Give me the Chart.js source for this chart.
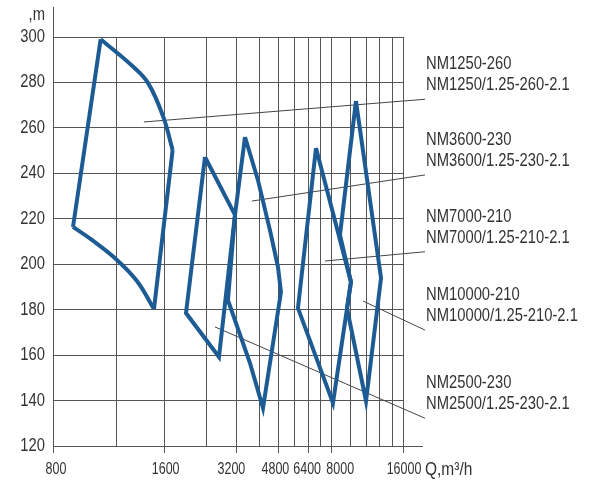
<!DOCTYPE html>
<html>
<head>
<meta charset="utf-8">
<script src="https://cdn.jsdelivr.net/npm/chart.js@4"></script>
<style>
  body { margin: 0; background: #fff; }
</style>
</head>
<body>
<canvas id="pump-chart" width="592" height="482"></canvas>
<script>
// head H (m) against flow Q (m3/h)
const headTicks = [120, 140, 160, 180, 200, 220, 240, 260, 280, 300];
const flowGrid = [544, 1000, 1600, 2400, 3200, 4000, 4800, 5600, 6400, 7200, 8000, 9600, 11200, 12800, 14400, 16000];
const flowLabels = ["800", "", "1600", "", "3200", "", "4800", "", "6400", "", "8000", "", "", "", "", "16000"];

// NM1250-260 is drawn in three parts: two curved arcs and the straight sides
const nm1250Top = [[862, 299], [1181, 286.9], [1366, 279.6], [1578, 264.9], [1728, 250.3]];
const nm1250Bottom = [[660, 216.4], [792, 210.7], [1009, 201.9], [1224, 192.6], [1443, 180.3]];
const nm1250Sides = [[[1728, 250.3], [1443, 180.3]], [[660, 216.4], [862, 299]]];

const nm2500 = [[2362, 247.2], [3156, 221.7], [2704, 159.2], [1966, 178.5], [2362, 247.2]];
const nm3600 = [[3477, 256], [3941, 237], [4424, 215], [4781, 198.8], [4922, 187.8], [4137, 136.7],
  [3648, 156.5], [2949, 184.2], [3156, 221.7], [3477, 256]];
const nm7000 = [[6903, 251.1], [9678, 192.2], [8133, 138.9], [5800, 180.7], [6903, 251.1]];
const nm10000 = [[10157, 271.8], [8703, 212.9], [9678, 192.2], [9314, 180.7], [11192, 139.8],
  [12937, 193.9], [10157, 271.8]];

// callouts: where the pointer starts inside each field, and the head of the shelf line
const pumpNames = ["NM1250-260", "NM3600-230", "NM7000-210", "NM10000-210", "NM2500-230"];
const pumpVariants = ["NM1250/1.25-260-2.1", "NM3600/1.25-230-2.1", "NM7000/1.25-210-2.1",
  "NM10000/1.25-210-2.1", "NM2500/1.25-230-2.1"];
const pointerStart = [[1309, 262.6], [3719, 227.8], [7531, 201.4], [10874, 183.8], [2602, 172.4]];
const shelfHeads = [272.6, 239.3, 205.5, 171.0, 132.2];
const shelfFrom = 19800;
const shelfTo = 75000;

const blue = "#1d5b94";
const gridColor = "#555";
const textColor = "#333";
const family = "'Liberation Sans', Arial, sans-serif";
// the printed x labels sit a little off their ticks
const labelNudge = { "800": 3, "1600": 1, "3200": -5, "4800": -3, "6400": -1, "8000": 9, "16000": 1 };

function pts(list) {
  return list.map((p) => ({ x: p[0], y: p[1] }));
}

function outline(list, tension) {
  return {
    data: pts(list),
    showLine: true,
    borderColor: blue,
    borderWidth: 4,
    borderJoinStyle: "miter",
    pointRadius: 0,
    tension: tension || 0,
    fill: false,
  };
}

const datasets = [
  outline(nm1250Top, 0.4),
  outline(nm1250Bottom, 0.4),
  outline(nm1250Sides[0]),
  outline(nm1250Sides[1]),
  outline(nm2500),
  outline(nm3600),
  outline(nm7000),
  outline(nm10000),
];

pointerStart.forEach((start, i) => {
  datasets.push({
    data: pts([start, [shelfFrom, shelfHeads[i]], [shelfTo, shelfHeads[i]]]),
    showLine: true,
    borderColor: "#444",
    borderWidth: 1,
    pointRadius: 0,
    clip: false,
  });
});

// the print uses a condensed face, so squeeze regular text a little
function narrowText(ctx, text, x, y, size, align, squeeze) {
  ctx.save();
  ctx.font = size + "px " + family;
  ctx.fillStyle = textColor;
  ctx.textAlign = align;
  ctx.textBaseline = "middle";
  ctx.translate(x, y);
  ctx.scale(squeeze || 0.82, 1);
  ctx.fillText(text, 0, 0);
  ctx.restore();
}

// tick labels, axis stubs, unit captions and the pump names
const extras = {
  id: "extras",
  afterDraw(chart) {
    const { ctx, chartArea, scales } = chart;
    const x = scales.x;
    const y = scales.y;
    ctx.save();
    ctx.strokeStyle = gridColor;
    ctx.lineWidth = 1;
    ctx.beginPath();
    ctx.moveTo(chartArea.left + 0.5, chartArea.top);
    ctx.lineTo(chartArea.left + 0.5, chartArea.top - 30);
    ctx.moveTo(chartArea.right, chartArea.bottom + 0.5);
    ctx.lineTo(chartArea.right + 20, chartArea.bottom + 0.5);
    ctx.stroke();
    ctx.restore();

    headTicks.forEach((h) => {
      narrowText(ctx, String(h), chartArea.left - 8, y.getPixelForValue(h), 18, "right");
    });
    narrowText(ctx, ",m", chartArea.left - 8, chartArea.top - 22, 18, "right");

    flowGrid.forEach((q, i) => {
      const label = flowLabels[i];
      if (label) {
        narrowText(ctx, label, x.getPixelForValue(q) + labelNudge[label], chartArea.bottom + 24, 16, "center", 0.78);
      }
    });
    narrowText(ctx, "Q,m³/h", x.getPixelForValue(16000) + 22, chartArea.bottom + 24, 18, "left", 0.86);

    pumpNames.forEach((name, i) => {
      const px = x.getPixelForValue(shelfFrom) + 1;
      const py = y.getPixelForValue(shelfHeads[i]);
      narrowText(ctx, name, px, py - 35, 18, "left");
      narrowText(ctx, pumpVariants[i], px, py - 14, 18, "left");
    });
  },
};

new Chart(document.querySelector("#pump-chart").getContext("2d"), {
  type: "scatter",
  data: { datasets },
  options: {
    responsive: false,
    animation: false,
    layout: { padding: { top: 37, right: 189, left: 0, bottom: 0 } },
    plugins: { legend: { display: false }, tooltip: { enabled: false } },
    scales: {
      x: {
        type: "logarithmic",
        min: flowGrid[0],
        max: flowGrid[flowGrid.length - 1],
        afterBuildTicks: (scale) => {
          scale.ticks = flowGrid.map((v) => ({ value: v }));
        },
        afterFit: (scale) => {
          scale.height = 36;
        },
        border: { color: gridColor, width: 1 },
        grid: {
          color: gridColor,
          lineWidth: 1,
          tickLength: 7,
          tickColor: (c) => (flowLabels[c.index] ? gridColor : "rgba(0,0,0,0)"),
        },
        ticks: { display: false },
      },
      y: {
        min: headTicks[0],
        max: headTicks[headTicks.length - 1],
        afterBuildTicks: (scale) => {
          scale.ticks = headTicks.map((v) => ({ value: v }));
        },
        afterFit: (scale) => {
          scale.width = 53;
        },
        border: { color: gridColor, width: 1 },
        grid: { color: gridColor, lineWidth: 1, drawTicks: false },
        ticks: { display: false },
      },
    },
  },
  plugins: [extras],
});
</script>
</body>
</html>
